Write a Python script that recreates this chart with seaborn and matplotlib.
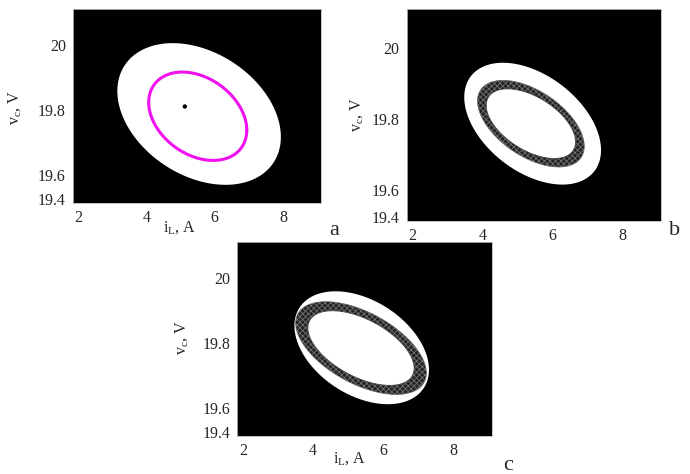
import numpy as np
import seaborn as sns
import matplotlib.pyplot as plt

# ellipse specs:
# [centre iL, centre vc, half width in iL, half height in vc, phase]
basin_a = [5.54, 19.787, 2.40, 0.218, 1.90]
cycle_a = [5.50, 19.780, 1.44, 0.136, 1.89]
focus_a = [[5.12], [19.810]]

basin_b = [5.44, 19.787, 1.96, 0.1715, 2.02]
ring_b_out = [5.39, 19.787, 1.53, 0.122, 2.12]
ring_b_in = [5.39, 19.787, 1.28, 0.098, 2.12]

basin_c = [5.39, 19.785, 1.925, 0.174, 1.97]
ring_c_out = [5.37, 19.784, 1.87, 0.143, 2.14]
ring_c_in = [5.37, 19.784, 1.52, 0.115, 2.14]

x_ticks = [2, 4, 6, 8]
y_ticks = [19.525, 19.6, 19.8, 20.0]
y_tick_labels = ["19.4", "19.6", "19.8", "20"]

sns.set_style("white")
plt.rcParams['font.family'] = ['Liberation Serif', 'DejaVu Serif']
plt.rcParams['mathtext.fontset'] = 'stix'
plt.rcParams['hatch.linewidth'] = 0.6


def ellipse(spec):
    cx, cy, ax_, ay_, ph = spec
    t = np.linspace(0, 2 * np.pi, 400)
    return cx + ax_ * np.cos(t), cy + ay_ * np.cos(t + ph)


def setup(ax, xlab_pos=None, ylab_pos=(-0.19, 0.5)):
    ax.set_facecolor('black')
    ax.set_xlim(1.83, 9.11)
    ax.set_ylim(19.513, 20.11)
    ax.set_xticks(x_ticks)
    ax.set_xticklabels([str(v) for v in x_ticks])
    ax.set_yticks(y_ticks)
    ax.set_yticklabels(y_tick_labels)
    ax.tick_params(length=0, pad=5, labelsize=11.5)
    for s in ax.spines.values():
        s.set_color('#bbbbbb')
        s.set_linewidth(0.6)
    ax.set_ylabel(r"$\mathregular{v_c}$, V", fontsize=11.5)
    ax.yaxis.set_label_coords(*ylab_pos)
    if xlab_pos is not None:
        ax.set_xlabel(r"$\mathregular{i_L}$, A", fontsize=11.5)
        ax.xaxis.set_label_coords(*xlab_pos)


def ring(ax, outer, inner):
    xo, yo = ellipse(outer)
    ax.fill(xo, yo, facecolor='#222222', edgecolor='#707070',
            hatch='xxxxxx', linewidth=0.5)
    xi, yi = ellipse(inner)
    ax.fill(xi, yi, facecolor='white', edgecolor='#444444', linewidth=0.6)


fig = plt.figure(figsize=(6.9, 4.74), dpi=100)

# panel a
ax_a = fig.add_axes([0.1054, 0.5717, 0.3594, 0.4093])
setup(ax_a, xlab_pos=(0.43, -0.085), ylab_pos=(-0.2, 0.49))
bx, by = ellipse(basin_a)
ax_a.fill(bx, by, color='white', linewidth=0)
cx, cy = ellipse(cycle_a)
sns.lineplot(x=cx, y=cy, sort=False, estimator=None, color='#f010f0',
             linewidth=2.2, ax=ax_a)
sns.scatterplot(x=focus_a[0], y=focus_a[1], color='black', s=10,
                edgecolor='none', ax=ax_a)
fig.text(334 / 690, 1 - 231 / 474, "a", fontsize=16, ha='center', va='center')

# panel b
ax_b = fig.add_axes([0.5894, 0.5338, 0.3681, 0.4473])
setup(ax_b, ylab_pos=(-0.164, 0.5))
bx, by = ellipse(basin_b)
ax_b.fill(bx, by, color='white', linewidth=0)
ring(ax_b, ring_b_out, ring_b_in)
fig.text(675 / 690, 1 - 231 / 474, "b", fontsize=16, ha='center', va='center')

# panel c
ax_c = fig.add_axes([0.3439, 0.0802, 0.3687, 0.4086])
setup(ax_c, xlab_pos=(0.443, -0.075), ylab_pos=(-0.186, 0.51))
bx, by = ellipse(basin_c)
ax_c.fill(bx, by, color='white', linewidth=0)
ring(ax_c, ring_c_out, ring_c_in)
fig.text(508 / 690, 1 - 466 / 474, "c", fontsize=16, ha='center', va='center')

fig.savefig("out.png", dpi=100)
